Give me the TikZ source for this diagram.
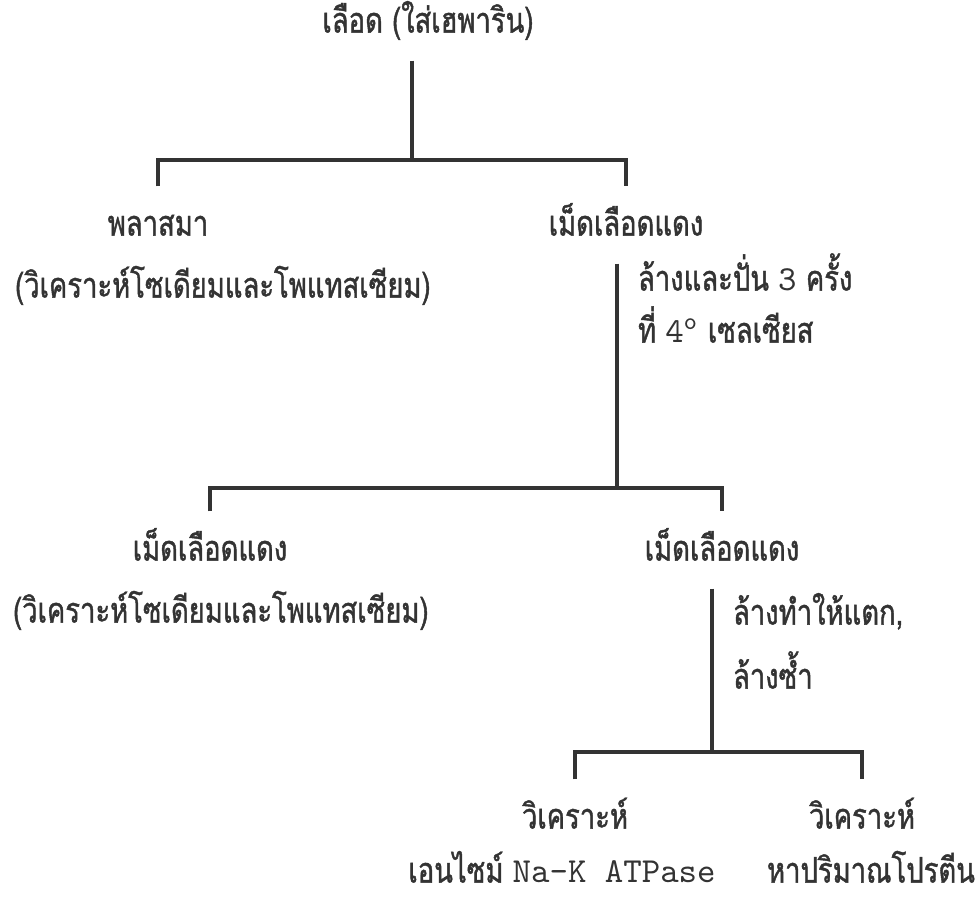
\documentclass[tikz,border=0pt]{standalone}
\usepackage{fontspec}
\newfontfamily\thaifont[Script=Thai,FakeStretch=0.78,FakeBold=1.2]{Loma}
\newcommand{\tw}[1]{{\ttfamily\fontsize{10}{12}\selectfont #1}}
\usetikzlibrary{positioning}

\begin{document}
\begin{tikzpicture}[x=0.1mm,y=-0.1mm,
  txt/.style={font=\thaifont\fontsize{10}{12}\selectfont, text=black!80,
    inner sep=2pt, outer sep=4pt, text height=8pt, text depth=2pt},
  link/.style={draw=black!80, line width=1pt}]
\useasboundingbox (0,0) rectangle (980,897);

\coordinate (j1) at (412,160);
\coordinate (j2) at (617,488);
\coordinate (j3) at (712,752);

\node[txt] (blood) at (428,22) {เลือด (ใส่เฮพาริน)};
\node[txt] (plasma) at (158,225) {พลาสมา};
\node[txt] (rbcA) at (626,225) {เม็ดเลือดแดง};
\node[txt,anchor=west] (naA) at (-6,287) {(วิเคราะห์โซเดียมและโพแทสเซียม)};
\node[txt,anchor=west] (washA) at (617,280) {ล้างและปั่น \tw{3} ครั้ง};
\node[txt,anchor=west] (tempA) at (617,332) {ที่ \tw{4\textsuperscript{o}} เซลเซียส};

\node[txt] (rbcB) at (210,550) {เม็ดเลือดแดง};
\node[txt] (rbcC) at (722,550) {เม็ดเลือดแดง};
\node[txt,anchor=west] (naB) at (-8,612) {(วิเคราะห์โซเดียมและโพแทสเซียม)};
\node[txt,anchor=west] (lyse) at (712,614) {ล้างทำให้แตก,};
\node[txt,anchor=west] (rewash) at (712,678) {ล้างซ้ำ};

\node[txt] (anaA) at (575,818) {วิเคราะห์};
\node[txt] (anaB) at (862,818) {วิเคราะห์};
\node[txt] (atpase) at (562,872) {เอนไซม์ \tw{Na-K ATPase}};
\node[txt] (protein) at (871,872) {หาปริมาณโปรตีน};

\draw[link] (blood.south -| j1) -- (j1);
\draw[link] (plasma) |- (j1) -| (rbcA);

\draw[link] (rbcA.south -| j2) -- (j2);
\draw[link] (rbcB) |- (j2) -| (rbcC);

\draw[link] (rbcC.south -| j3) -- (j3);
\draw[link] (anaA) |- (j3) -| (anaB);

\end{tikzpicture}
\end{document}
